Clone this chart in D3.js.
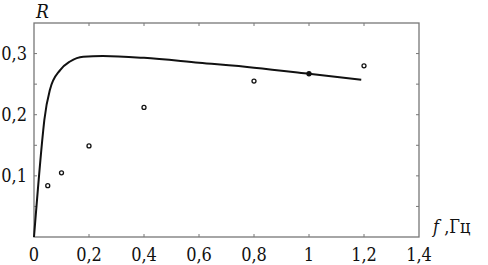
<!DOCTYPE html>
<meta charset="utf-8">
<script src="https://d3js.org/d3.v7.min.js"></script>
<style>
  body { margin: 0; background: #fff; }
</style>
<div id="chart"></div>
<script>
// curve R(f)
var lineF = [0, 0.033, 0.0375, 0.058, 0.095, 0.131, 0.179, 0.25, 0.4, 0.6, 0.8, 1.0, 1.19];
var lineR = [0, 0.172, 0.191, 0.241, 0.273, 0.287, 0.295, 0.296, 0.293, 0.285, 0.277, 0.267, 0.257];
// measured points
var ptF = [0.05, 0.1, 0.2, 0.4, 0.8, 1.0, 1.2];
var ptR = [0.084, 0.105, 0.149, 0.212, 0.255, 0.267, 0.280];
var xTicks = [0, 0.2, 0.4, 0.6, 0.8, 1, 1.2, 1.4];
var yTicks = [0.1, 0.2, 0.3];
var yMinor = [0.05, 0.1, 0.15, 0.2, 0.25, 0.3];

var W = 488, H = 265;
var margin = {top: 23, right: 69, bottom: 28, left: 34};
var width = W - margin.left - margin.right,
    height = H - margin.top - margin.bottom;
var serif = "'DejaVu Serif Condensed', 'DejaVu Serif', serif";

var svg = d3.select("#chart").append("svg")
    .attr("width", W).attr("height", H)
  .append("g")
    .attr("transform", "translate(" + margin.left + "," + margin.top + ")");

var x = d3.scaleLinear().domain([0, 1.4]).range([0, width]);
var y = d3.scaleLinear().domain([0, 0.35]).range([height, 0]);

var fmt = function(d) { return d === 0 ? "0" : String(+d.toFixed(2)).replace(".", ","); };

// frame
svg.append("rect")
  .attr("width", width).attr("height", height)
  .attr("fill", "none").attr("stroke", "#777").attr("stroke-width", 1.3);

// ticks (inward)
svg.append("g").selectAll("line").data(xTicks.slice(1, -1)).enter().append("line")
  .attr("x1", d => x(d)).attr("x2", d => x(d)).attr("y1", height).attr("y2", height - 3)
  .attr("stroke", "#777");
svg.append("g").selectAll("line").data(xTicks.slice(1, -1)).enter().append("line")
  .attr("x1", d => x(d)).attr("x2", d => x(d)).attr("y1", 0).attr("y2", 3)
  .attr("stroke", "#777");
svg.append("g").selectAll("line").data(yMinor).enter().append("line")
  .attr("x1", 0).attr("x2", 3).attr("y1", d => y(d)).attr("y2", d => y(d))
  .attr("stroke", "#777");
svg.append("g").selectAll("line").data(yMinor).enter().append("line")
  .attr("x1", width).attr("x2", width - 3).attr("y1", d => y(d)).attr("y2", d => y(d))
  .attr("stroke", "#777");

// tick labels
svg.append("g").selectAll("text").data(xTicks).enter().append("text")
  .attr("x", d => x(d)).attr("y", height + 24)
  .attr("text-anchor", "middle").style("font-family", serif).style("font-size", "18px")
  .attr("fill", "#111")
  .text(fmt);
svg.append("g").selectAll("text").data(yTicks).enter().append("text")
  .attr("x", -7).attr("y", d => y(d) + 6)
  .attr("text-anchor", "end").style("font-family", serif).style("font-size", "18px")
  .attr("fill", "#111")
  .text(fmt);

// axis titles
svg.append("text").attr("x", 2).attr("y", -5)
  .style("font-family", serif).style("font-size", "19px").style("font-style", "italic")
  .attr("fill", "#111").text("R");
var ft = svg.append("text").attr("x", width + 14).attr("y", height - 4)
  .style("font-family", serif).style("font-size", "18px").attr("fill", "#111");
ft.append("tspan").style("font-style", "italic").text("f");
ft.append("tspan").text(" ,Гц");

// curve
var lineData = lineF.map((f, i) => ({f: f, r: lineR[i]}));
svg.append("path").datum(lineData)
  .attr("fill", "none").attr("stroke", "#111").attr("stroke-width", 2)
  .attr("d", d3.line().x(d => x(d.f)).y(d => y(d.r)).curve(d3.curveMonotoneX));

// points (the one at 1 Hz sits on the curve and looks filled)
var pts = ptF.map((f, i) => ({f: f, r: ptR[i]}));
svg.append("g").selectAll("circle").data(pts).enter().append("circle")
  .attr("cx", d => x(d.f)).attr("cy", d => y(d.r)).attr("r", 2)
  .attr("fill", d => d.f === 1.0 ? "#111" : "#fff")
  .attr("stroke", "#111").attr("stroke-width", 1.3);
</script>
